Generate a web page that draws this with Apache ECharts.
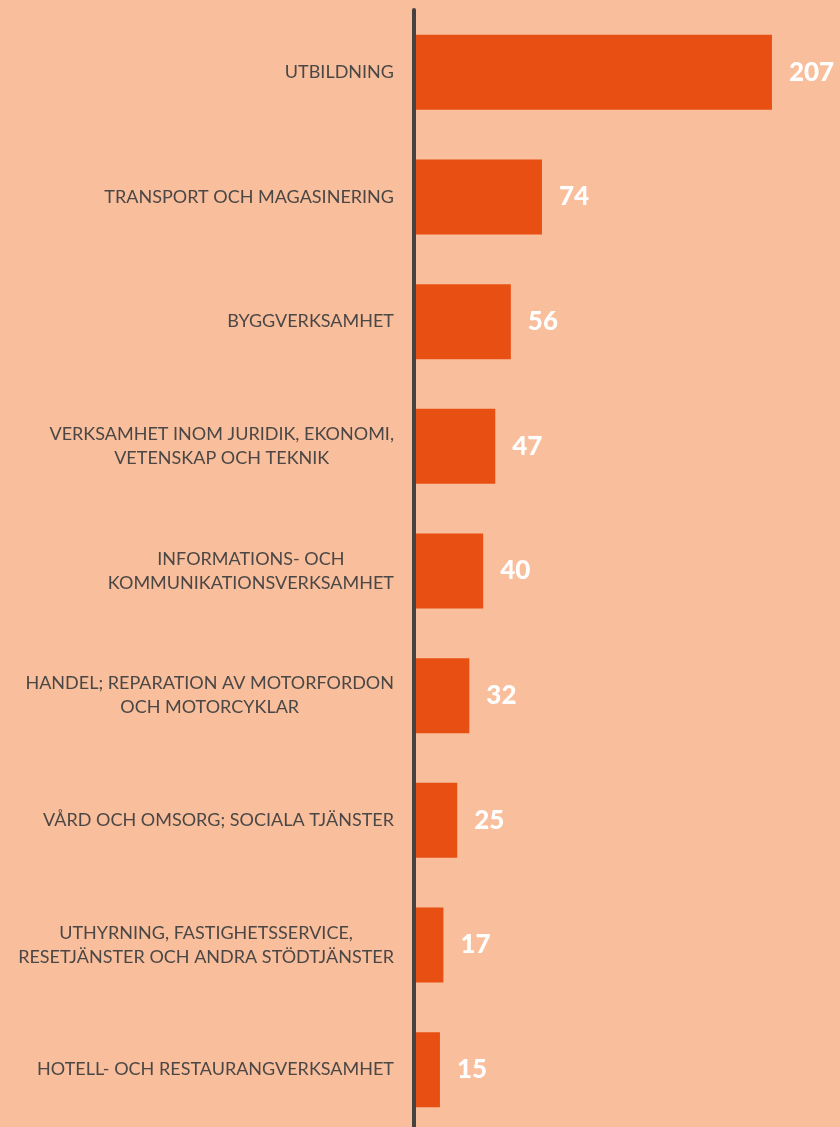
<!DOCTYPE html>
<html>
<head>
<meta charset="utf-8">
<script src="https://cdn.jsdelivr.net/npm/echarts@6/dist/echarts.min.js"></script>
<style>
html,body{margin:0;padding:0;background:#F9BE9B;}
#chart{width:840px;height:1127px;}
</style>
</head>
<body>
<div id="chart"></div>
<script>
const categories = [
  "UTBILDNING",
  "TRANSPORT OCH MAGASINERING",
  "BYGGVERKSAMHET",
  "VERKSAMHET INOM JURIDIK, EKONOMI,\nVETENSKAP OCH TEKNIK",
  "INFORMATIONS- OCH\nKOMMUNIKATIONSVERKSAMHET",
  "HANDEL; REPARATION AV MOTORFORDON\nOCH MOTORCYKLAR",
  "VÅRD OCH OMSORG; SOCIALA TJÄNSTER",
  "UTHYRNING, FASTIGHETSSERVICE,\nRESETJÄNSTER OCH ANDRA STÖDTJÄNSTER",
  "HOTELL- OCH RESTAURANGVERKSAMHET"
];
const values = [207, 74, 56, 47, 40, 32, 25, 17, 15];

const chart = echarts.init(document.getElementById('chart'));
chart.setOption({
  backgroundColor: '#F9BE9B',
  animation: false,
  grid: { left: 414, right: 11, top: 10, height: 1122, outerBoundsMode: 'none', containLabel: false },
  xAxis: {
    type: 'value', min: 0, max: 240,
    show: false
  },
  yAxis: {
    type: 'category',
    inverse: true,
    data: categories,
    z: 5,
    axisLine: { show: true, lineStyle: { color: '#454341', width: 4 } },
    axisTick: { show: false },
    axisLabel: {
      margin: 20,
      formatter: function (v) {
        return v.split('\n').map(function (s) { return '{c|' + s + '}'; }).join('\n');
      },
      rich: {
        c: { align: 'center', fontFamily: 'Lato', fontSize: 18, color: '#4a4746', lineHeight: 24 }
      }
    }
  },
  series: [{
    type: 'bar',
    data: values,
    barWidth: 75,
    itemStyle: { color: '#E84F12' },
    label: {
      show: true,
      position: 'right',
      distance: 17,
      color: '#ffffff',
      fontFamily: 'Lato',
      fontWeight: 900,
      fontSize: 26
    }
  }]
});
</script>
</body>
</html>
